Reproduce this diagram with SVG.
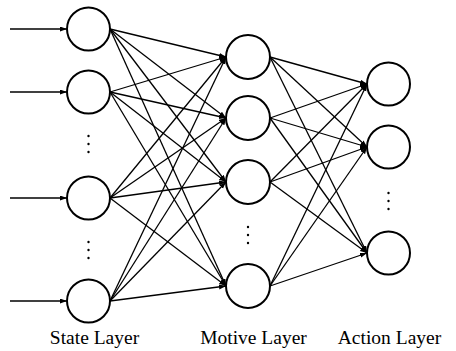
<svg xmlns="http://www.w3.org/2000/svg" width="456" height="351" viewBox="0 0 456 351">
  <style>
    .node { fill: #fff; stroke: #000; stroke-width: 2; }
    .edge { stroke: #000; stroke-width: 1.3; fill: none; marker-end: url(#arrow); }
    .dot { fill: #000; }
    .label { font-family: "Liberation Serif", "Times New Roman", serif; font-size: 19.5px; fill: #000; text-anchor: middle; }
  </style>
  <defs>
    <marker id="arrow" markerUnits="userSpaceOnUse" markerWidth="8" markerHeight="6" refX="7" refY="2.5" orient="auto">
      <path d="M0,0 L7,2.5 L0,5 z" fill="#000"/>
    </marker>
  </defs>
  <rect width="456" height="351" fill="#fff"/>

  <g id="connectors">
    <!-- inputs -->
    <line class="edge" x1="10" y1="29" x2="67" y2="29"/>
    <line class="edge" x1="10" y1="92" x2="67" y2="92"/>
    <line class="edge" x1="10" y1="198" x2="67" y2="198"/>
    <line class="edge" x1="10" y1="301" x2="67" y2="301"/>
    <!-- state -> motive -->
    <line class="edge" x1="110" y1="29" x2="226" y2="57"/>
    <line class="edge" x1="110" y1="29" x2="226" y2="118"/>
    <line class="edge" x1="110" y1="29" x2="226" y2="182"/>
    <line class="edge" x1="110" y1="29" x2="226" y2="286"/>
    <line class="edge" x1="110" y1="92" x2="226" y2="57"/>
    <line class="edge" x1="110" y1="92" x2="226" y2="118"/>
    <line class="edge" x1="110" y1="92" x2="226" y2="182"/>
    <line class="edge" x1="110" y1="92" x2="226" y2="286"/>
    <line class="edge" x1="110" y1="198" x2="226" y2="57"/>
    <line class="edge" x1="110" y1="198" x2="226" y2="118"/>
    <line class="edge" x1="110" y1="198" x2="226" y2="182"/>
    <line class="edge" x1="110" y1="198" x2="226" y2="286"/>
    <line class="edge" x1="110" y1="301" x2="226" y2="57"/>
    <line class="edge" x1="110" y1="301" x2="226" y2="118"/>
    <line class="edge" x1="110" y1="301" x2="226" y2="182"/>
    <line class="edge" x1="110" y1="301" x2="226" y2="286"/>
    <!-- motive -> action -->
    <line class="edge" x1="270" y1="57" x2="367" y2="84"/>
    <line class="edge" x1="270" y1="57" x2="367" y2="147"/>
    <line class="edge" x1="270" y1="57" x2="367" y2="253"/>
    <line class="edge" x1="270" y1="118" x2="367" y2="84"/>
    <line class="edge" x1="270" y1="118" x2="367" y2="147"/>
    <line class="edge" x1="270" y1="118" x2="367" y2="253"/>
    <line class="edge" x1="270" y1="182" x2="367" y2="84"/>
    <line class="edge" x1="270" y1="182" x2="367" y2="147"/>
    <line class="edge" x1="270" y1="182" x2="367" y2="253"/>
    <line class="edge" x1="270" y1="286" x2="367" y2="84"/>
    <line class="edge" x1="270" y1="286" x2="367" y2="147"/>
    <line class="edge" x1="270" y1="286" x2="367" y2="253"/>
  </g>

  <!-- state layer -->
  <g id="state-1"><circle class="node" cx="88.5" cy="29" r="21.5"/></g>
  <g id="state-2"><circle class="node" cx="88.5" cy="92" r="21.5"/></g>
  <g id="state-3"><circle class="node" cx="88.5" cy="198" r="21.5"/></g>
  <g id="state-4"><circle class="node" cx="88.5" cy="301" r="21.5"/></g>
  <g id="state-ellipsis-1">
    <circle class="dot" cx="88.5" cy="136" r="1.2"/>
    <circle class="dot" cx="88.5" cy="144" r="1.2"/>
    <circle class="dot" cx="88.5" cy="152" r="1.2"/>
  </g>
  <g id="state-ellipsis-2">
    <circle class="dot" cx="88.5" cy="242" r="1.2"/>
    <circle class="dot" cx="88.5" cy="250" r="1.2"/>
    <circle class="dot" cx="88.5" cy="258" r="1.2"/>
  </g>

  <!-- motive layer -->
  <g id="motive-1"><circle class="node" cx="248" cy="57" r="22"/></g>
  <g id="motive-2"><circle class="node" cx="248" cy="118" r="22"/></g>
  <g id="motive-3"><circle class="node" cx="248" cy="182" r="22"/></g>
  <g id="motive-4"><circle class="node" cx="248" cy="286" r="22"/></g>
  <g id="motive-ellipsis">
    <circle class="dot" cx="248" cy="227" r="1.2"/>
    <circle class="dot" cx="248" cy="235" r="1.2"/>
    <circle class="dot" cx="248" cy="243" r="1.2"/>
  </g>

  <!-- action layer -->
  <g id="action-1"><circle class="node" cx="388.5" cy="84" r="21.5"/></g>
  <g id="action-2"><circle class="node" cx="388.5" cy="147" r="21.5"/></g>
  <g id="action-3"><circle class="node" cx="388.5" cy="253" r="21.5"/></g>
  <g id="action-ellipsis">
    <circle class="dot" cx="388.5" cy="193" r="1.2"/>
    <circle class="dot" cx="388.5" cy="201" r="1.2"/>
    <circle class="dot" cx="388.5" cy="209" r="1.2"/>
  </g>

  <!-- layer captions -->
  <text class="label" x="94.5" y="344">State Layer</text>
  <text class="label" x="253.5" y="344">Motive Layer</text>
  <text class="label" x="389.5" y="344">Action Layer</text>
</svg>
